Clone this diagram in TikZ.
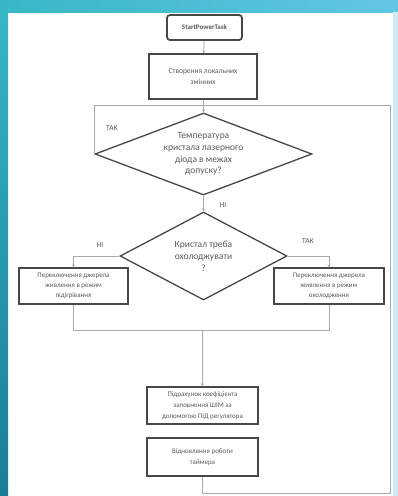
\documentclass[tikz,border=0pt]{standalone}
\usepackage{fontspec}
\setmainfont{Carlito}
\usetikzlibrary{shapes.geometric,arrows.meta}
\definecolor{tealA}{HTML}{38B6C6}
\definecolor{tealB}{HTML}{62C6E4}
\definecolor{tealC}{HTML}{1A7E96}
\definecolor{txt}{HTML}{5A5A5A}
\definecolor{boxc}{HTML}{474747}
\definecolor{linec}{HTML}{A8A8B0}
\tikzset{
  procbox/.style={draw=boxc, line width=1.3pt, fill=white, text=txt, align=center, inner sep=1pt, font=\fontsize{7.5}{10.5}\selectfont},
  startbox/.style={procbox, rounded corners=3pt, line width=1.8pt, font=\bfseries\fontsize{7}{8}\selectfont},
  decision/.style={draw=boxc, line width=1.3pt, diamond, fill=white, text=txt, align=center, inner sep=0pt},
  conn/.style={draw=linec, line width=0.8pt},
  arr/.style={conn, -{Stealth[length=3pt,width=3pt]}},
  lbl/.style={text=txt, font=\fontsize{7.5}{9}\selectfont, inner sep=0pt}
}
\begin{document}
\begin{tikzpicture}[x=1pt,y=-1pt]
\useasboundingbox (0,0) rectangle (398,496);
\fill[white] (0,0) rectangle (398,496);
\shade[left color=tealA, right color=tealB] (0,0) rectangle (398,12);
\shade[top color=tealA, bottom color=tealC] (0,0) rectangle (8,496);
\fill[tealB!35] (393,12) rectangle (398,496);

\node[startbox, minimum width=75pt, minimum height=25pt] (start) at (204.5,27.5) {StartPowerTask};
\node[procbox, minimum width=108pt, minimum height=45pt, font=\fontsize{7.5}{11}\selectfont] (vars) at (203,76.5) {Створення локальних\\змінних};
\node[decision, minimum width=217pt, minimum height=82pt, aspect=2.65, font=\fontsize{9.5}{11.8}\selectfont] (d1) at (203.5,154) {Температура\\кристала лазерного\\діода в межах\\допуску?};
\node[decision, minimum width=167pt, minimum height=88pt, aspect=1.9, font=\fontsize{9.5}{11.8}\selectfont] (d2) at (203.5,256) {Кристал треба\\охолоджувати\\?};
\node[procbox, minimum width=109pt, minimum height=36pt, font=\fontsize{7}{10}\selectfont] (heat) at (73.5,286) {Переключення джерела\\живлення в режим\\підігрівання};
\node[procbox, minimum width=110pt, minimum height=36pt, font=\fontsize{7}{10}\selectfont] (cool) at (329,286) {Переключення джерела\\живлення в режим\\охолодження};
\node[procbox, minimum width=111pt, minimum height=37pt, font=\fontsize{7}{11}\selectfont] (pwm) at (202.5,405.5) {Підрахунок коефіцієнта\\заповнення ШІМ за\\допомогою ПІД регулятора};
\node[procbox, minimum width=111pt, minimum height=38pt, font=\fontsize{7}{11}\selectfont] (timer) at (202.5,457) {Відновлення роботи\\таймера};

\coordinate (join) at (203.5,105);
\coordinate (topR) at (390,105);
\coordinate (botR) at (390,493);
\coordinate (bot) at (202.5,493);
\coordinate (merge) at (202.5,330);

\draw[arr] (start) -- (vars);
\draw[conn] (vars) -- (join);
\draw[arr] (join) -- (d1.north);
\draw[conn] (d1.west) |- (join);
\draw[conn] (timer.south) -- (bot) -- (botR) -- (topR) -- (join);
\draw[arr] (d1.south) -- (d2.north);
\draw[arr] (d2.west) -| (heat.north);
\draw[arr] (d2.east) -| (cool.north);
\draw[conn] (heat.south) |- (merge);
\draw[conn] (cool.south) |- (merge);
\draw[arr] (merge) -- (pwm.north);

\node[lbl] (l1) at (112,128) {ТАК};
\node[lbl] (l2) at (223,205) {НІ};
\node[lbl] (l3) at (100,245) {НІ};
\node[lbl] (l4) at (308,241) {ТАК};
\end{tikzpicture}
\end{document}
